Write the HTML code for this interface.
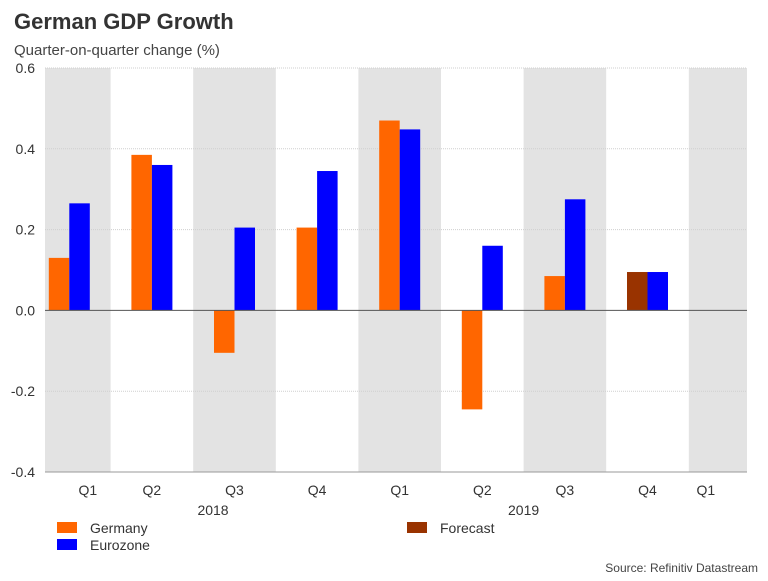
<!DOCTYPE html>
<html><head><meta charset="utf-8"><style>
body{margin:0;background:#fff;font-family:"Liberation Sans",Arial,sans-serif;}
svg text{font-family:"Liberation Sans",Arial,sans-serif;}
</style></head><body>
<svg id="c" width="768" height="576" xmlns="http://www.w3.org/2000/svg">
<text x="14" y="29" font-size="22" font-weight="bold" fill="#333">German GDP Growth</text>
<text x="14" y="55" font-size="15" fill="#444">Quarter-on-quarter change (%)</text>
<g id="bands"></g><g id="grid"></g><g id="bars"></g><g id="axes"></g>
<g>
<rect x="57" y="522" width="20" height="11" fill="#ff6600"/>
<text x="90" y="533" font-size="14" fill="#333">Germany</text>
<rect x="57" y="539" width="20" height="11" fill="#0000ff"/>
<text x="90" y="550" font-size="14" fill="#333">Eurozone</text>
<rect x="407" y="522" width="20" height="11" fill="#993300"/>
<text x="440" y="533" font-size="14" fill="#333">Forecast</text>
</g>
<text x="758" y="572" font-size="12" fill="#444" text-anchor="end">Source: Refinitiv Datastream</text>
</svg>
<script>
const categories=["Q1","Q2","Q3","Q4","Q1","Q2","Q3","Q4","Q1"];
const germany=[0.13,0.385,-0.105,0.205,0.47,-0.245,0.085,0.095,null];
const eurozone=[0.265,0.36,0.205,0.345,0.448,0.16,0.275,0.095,null];
const forecastFlags=[false,false,false,false,false,false,false,true,false];
const yTicks=[-0.4,-0.2,0.0,0.2,0.4,0.6];
const yearLabels=["2018","2019"];
const yearPos=[2.24,6.0];
const NS="http://www.w3.org/2000/svg";
const L=45,R=747,T=68,B=472,slot=82.6,start=28;
const y=v=>T+(0.6-v)*(B-T)/1.0;
const xs=i=>start+slot*i;
function mk(tag,attrs,parent,txt){const e=document.createElementNS(NS,tag);for(const k in attrs)e.setAttribute(k,attrs[k]);if(txt!=null)e.textContent=txt;document.getElementById(parent).appendChild(e);return e;}
categories.forEach((c,i)=>{
  const a=Math.max(L,xs(i)),b=Math.min(R,xs(i+1));
  if(i%2===0){const r=mk('rect',{x:a,y:T,width:b-a,height:B-T,fill:'#e3e3e3'},'bands');
  
  }
  let lx=(a+b)/2; if(i===0)lx+=10; if(i===categories.length-1)lx-=12;
  const t=mk('text',{x:lx,y:495,'font-size':14,fill:'#333','text-anchor':'middle'},'axes',c);
  
  
});
yearLabels.forEach((yl,i)=>{
  const t=mk('text',{x:xs(yearPos[i]),y:515,'font-size':14,fill:'#333','text-anchor':'middle'},'axes',yl);
  
  
});
yTicks.forEach(v=>{
  if(v!==0){const g=mk('line',{x1:L,x2:R,y1:y(v),y2:y(v),stroke:'#cfcfcf','stroke-width':1,'stroke-dasharray':'1,1'},'grid');
  
  }
  const t=mk('text',{x:35,y:y(v)+5,'font-size':14,fill:'#333','text-anchor':'end'},'axes',v.toFixed(1));
  
  
});
const bw=20.5;
categories.forEach((c,i)=>{
  const cx=xs(i)+slot/2;
  const g=germany[i],e=eurozone[i];
  if(g!=null){const r=mk('rect',{x:cx-bw,y:Math.min(y(g),y(0)),width:bw,height:Math.abs(y(g)-y(0)),fill:forecastFlags[i]?'#993300':'#ff6600'},'bars');
  
  }
  if(e!=null){const r=mk('rect',{x:cx,y:Math.min(y(e),y(0)),width:bw,height:Math.abs(y(e)-y(0)),fill:'#0000ff'},'bars');
  
  }
});
const z=mk('line',{x1:L,x2:R,y1:y(0),y2:y(0),stroke:'#555','stroke-width':1},'axes');


const xb=mk('line',{x1:L,x2:R,y1:B,y2:B,stroke:'#999','stroke-width':1},'axes');


</script>
</body></html>
